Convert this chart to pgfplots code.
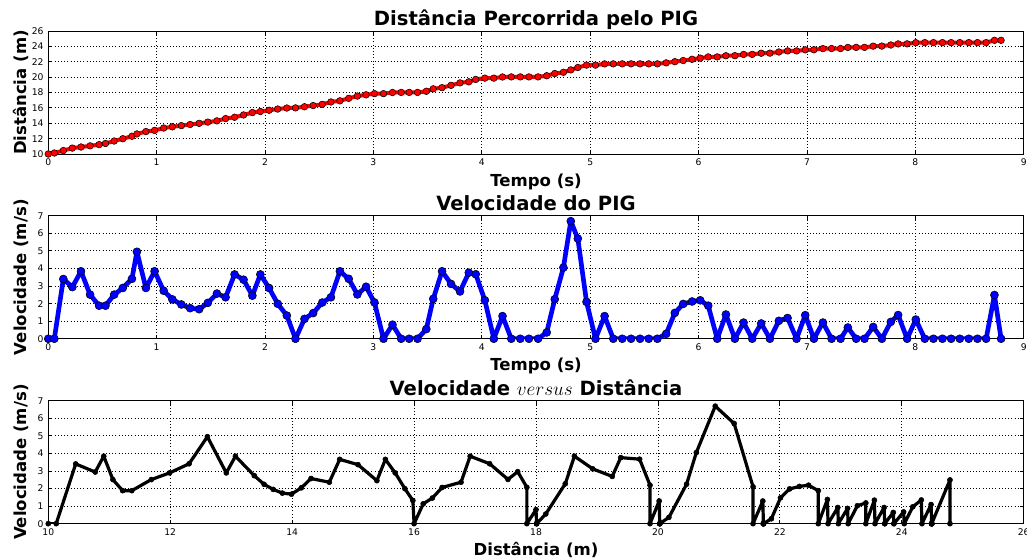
\documentclass[border=0pt]{standalone}
\usepackage{fontspec}
\setmainfont{DejaVu Sans}
\usepackage{pgfplots}
\usepackage{pgfplotstable}
\pgfplotsset{compat=1.18}

% tempo (s), distancia (m), velocidade (m/s)
\pgfplotstableread{
t d v
0.000 10.00 0
0.056 10.13 0
0.139 10.45 3.40
0.222 10.77 2.94
0.302 10.91 3.84
0.386 11.06 2.51
0.469 11.22 1.88
0.528 11.37 1.88
0.608 11.69 2.51
0.688 11.99 2.89
0.772 12.31 3.41
0.818 12.61 4.95
0.901 12.92 2.89
0.981 13.07 3.84
1.065 13.38 2.73
1.145 13.54 2.24
1.228 13.69 1.95
1.309 13.84 1.74
1.392 13.99 1.68
1.472 14.15 2.04
1.556 14.31 2.57
1.636 14.61 2.36
1.719 14.78 3.66
1.802 15.08 3.36
1.883 15.39 2.45
1.957 15.53 3.66
2.037 15.69 2.89
2.117 15.85 1.99
2.201 15.98 1.32
2.281 16.00 0
2.364 16.15 1.13
2.444 16.30 1.46
2.528 16.46 2.06
2.608 16.77 2.36
2.691 16.92 3.84
2.772 17.24 3.41
2.852 17.54 2.52
2.932 17.70 2.96
3.009 17.85 2.07
3.093 17.85 0
3.176 18.00 0.80
3.256 18.01 0
3.330 18.01 0
3.407 18.01 0
3.488 18.16 0.55
3.552 18.48 2.27
3.633 18.63 3.84
3.716 18.93 3.12
3.799 19.25 2.69
3.880 19.39 3.76
3.944 19.70 3.67
4.028 19.87 2.19
4.111 19.87 0
4.191 20.02 1.29
4.272 20.03 0
4.355 20.03 0
4.435 20.03 0
4.519 20.03 0
4.599 20.18 0.36
4.673 20.47 2.25
4.753 20.63 4.05
4.821 20.94 6.69
4.886 21.25 5.70
4.966 21.56 2.10
5.049 21.56 0
5.133 21.72 1.29
5.213 21.73 0
5.296 21.73 0
5.377 21.73 0
5.460 21.73 0
5.540 21.73 0
5.620 21.73 0
5.701 21.86 0.28
5.781 22.01 1.47
5.858 22.16 1.98
5.940 22.32 2.12
6.015 22.47 2.19
6.089 22.63 1.88
6.172 22.63 0
6.252 22.78 1.38
6.335 22.79 0
6.415 22.95 0.92
6.495 22.96 0
6.578 23.11 0.87
6.658 23.12 0
6.741 23.27 1.02
6.821 23.41 1.18
6.904 23.41 0
6.984 23.55 1.34
7.064 23.56 0
7.147 23.71 0.92
7.227 23.72 0
7.310 23.72 0
7.377 23.86 0.64
7.454 23.87 0
7.531 23.87 0
7.611 24.03 0.67
7.691 24.04 0
7.774 24.18 0.96
7.841 24.32 1.35
7.924 24.33 0
8.004 24.48 1.09
8.087 24.49 0
8.167 24.49 0
8.250 24.49 0
8.330 24.49 0
8.410 24.49 0
8.493 24.49 0
8.573 24.49 0
8.653 24.49 0
8.730 24.79 2.49
8.791 24.79 0
}\pig

\pgfplotsset{
  pigaxis/.style={
    scale only axis, width=731.6pt, height=92.25pt,
    anchor=north west,
    axis line style={line width=0.75pt},
    grid=major,
    major grid style={black, dotted, line width=0.6pt},
    tick style={black, line width=0.6pt},
    major tick length=3pt,
    tick align=inside, tick pos=both,
    ticklabel style={font=\fontsize{6.9}{8}\selectfont},
    /pgf/number format/assume math mode=true,
    every axis title shift=0pt,
    title style={at={(axis description cs:0.5,1)}, anchor=base, yshift=4pt,
      font=\fontsize{14.7}{17}\selectfont\bfseries},
    xlabel style={at={(axis description cs:0.5,0)}, anchor=base, yshift=-24pt,
      font=\fontsize{12.4}{14}\selectfont\bfseries},
    ylabel style={at={(axis description cs:-0.0226,0.5)}, anchor=base,
      font=\fontsize{12.4}{14}\selectfont\bfseries},
  },
}

\begin{document}
\begin{tikzpicture}
\useasboundingbox (0,0) rectangle (770.25pt,-418.5pt);

\begin{axis}[pigaxis, at={(36.2pt,-23.25pt)},
  title={Distância Percorrida pelo PIG},
  xlabel={Tempo (s)}, ylabel={Distância (m)},
  xmin=0, xmax=9, ymin=10, ymax=26,
  xtick={0,...,9}, ytick={10,12,...,26}]
\addplot[red, line width=3pt, line join=round, mark=*, mark size=2.5pt,
  mark options={fill=red, draw=black, line width=0.4pt}]
  table[x=t, y=d] {\pig};
\end{axis}

\begin{axis}[pigaxis, at={(36.2pt,-161.8pt)},
  title={Velocidade do PIG},
  xlabel={Tempo (s)}, ylabel={Velocidade (m/s)},
  xmin=0, xmax=9, ymin=0, ymax=7,
  xtick={0,...,9}, ytick={0,...,7}]
\addplot[blue, line width=3.5pt, line join=round, mark=*, mark size=3pt,
  mark options={fill=blue, draw=black, line width=0.4pt}]
  table[x=t, y=v] {\pig};
\end{axis}

\begin{axis}[pigaxis, at={(36.2pt,-300.5pt)},
  title={Velocidade $versus$ Distância},
  xlabel={Distância (m)}, ylabel={Velocidade (m/s)},
  xmin=10, xmax=26, ymin=0, ymax=7,
  xtick={10,12,...,26}, ytick={0,...,7}]
\addplot[black, line width=2.4pt, line join=round, mark=*, mark size=1.9pt,
  mark options={fill=black, draw=black, line width=0.4pt}]
  table[x=d, y=v] {\pig};
\end{axis}
\end{tikzpicture}
\end{document}
